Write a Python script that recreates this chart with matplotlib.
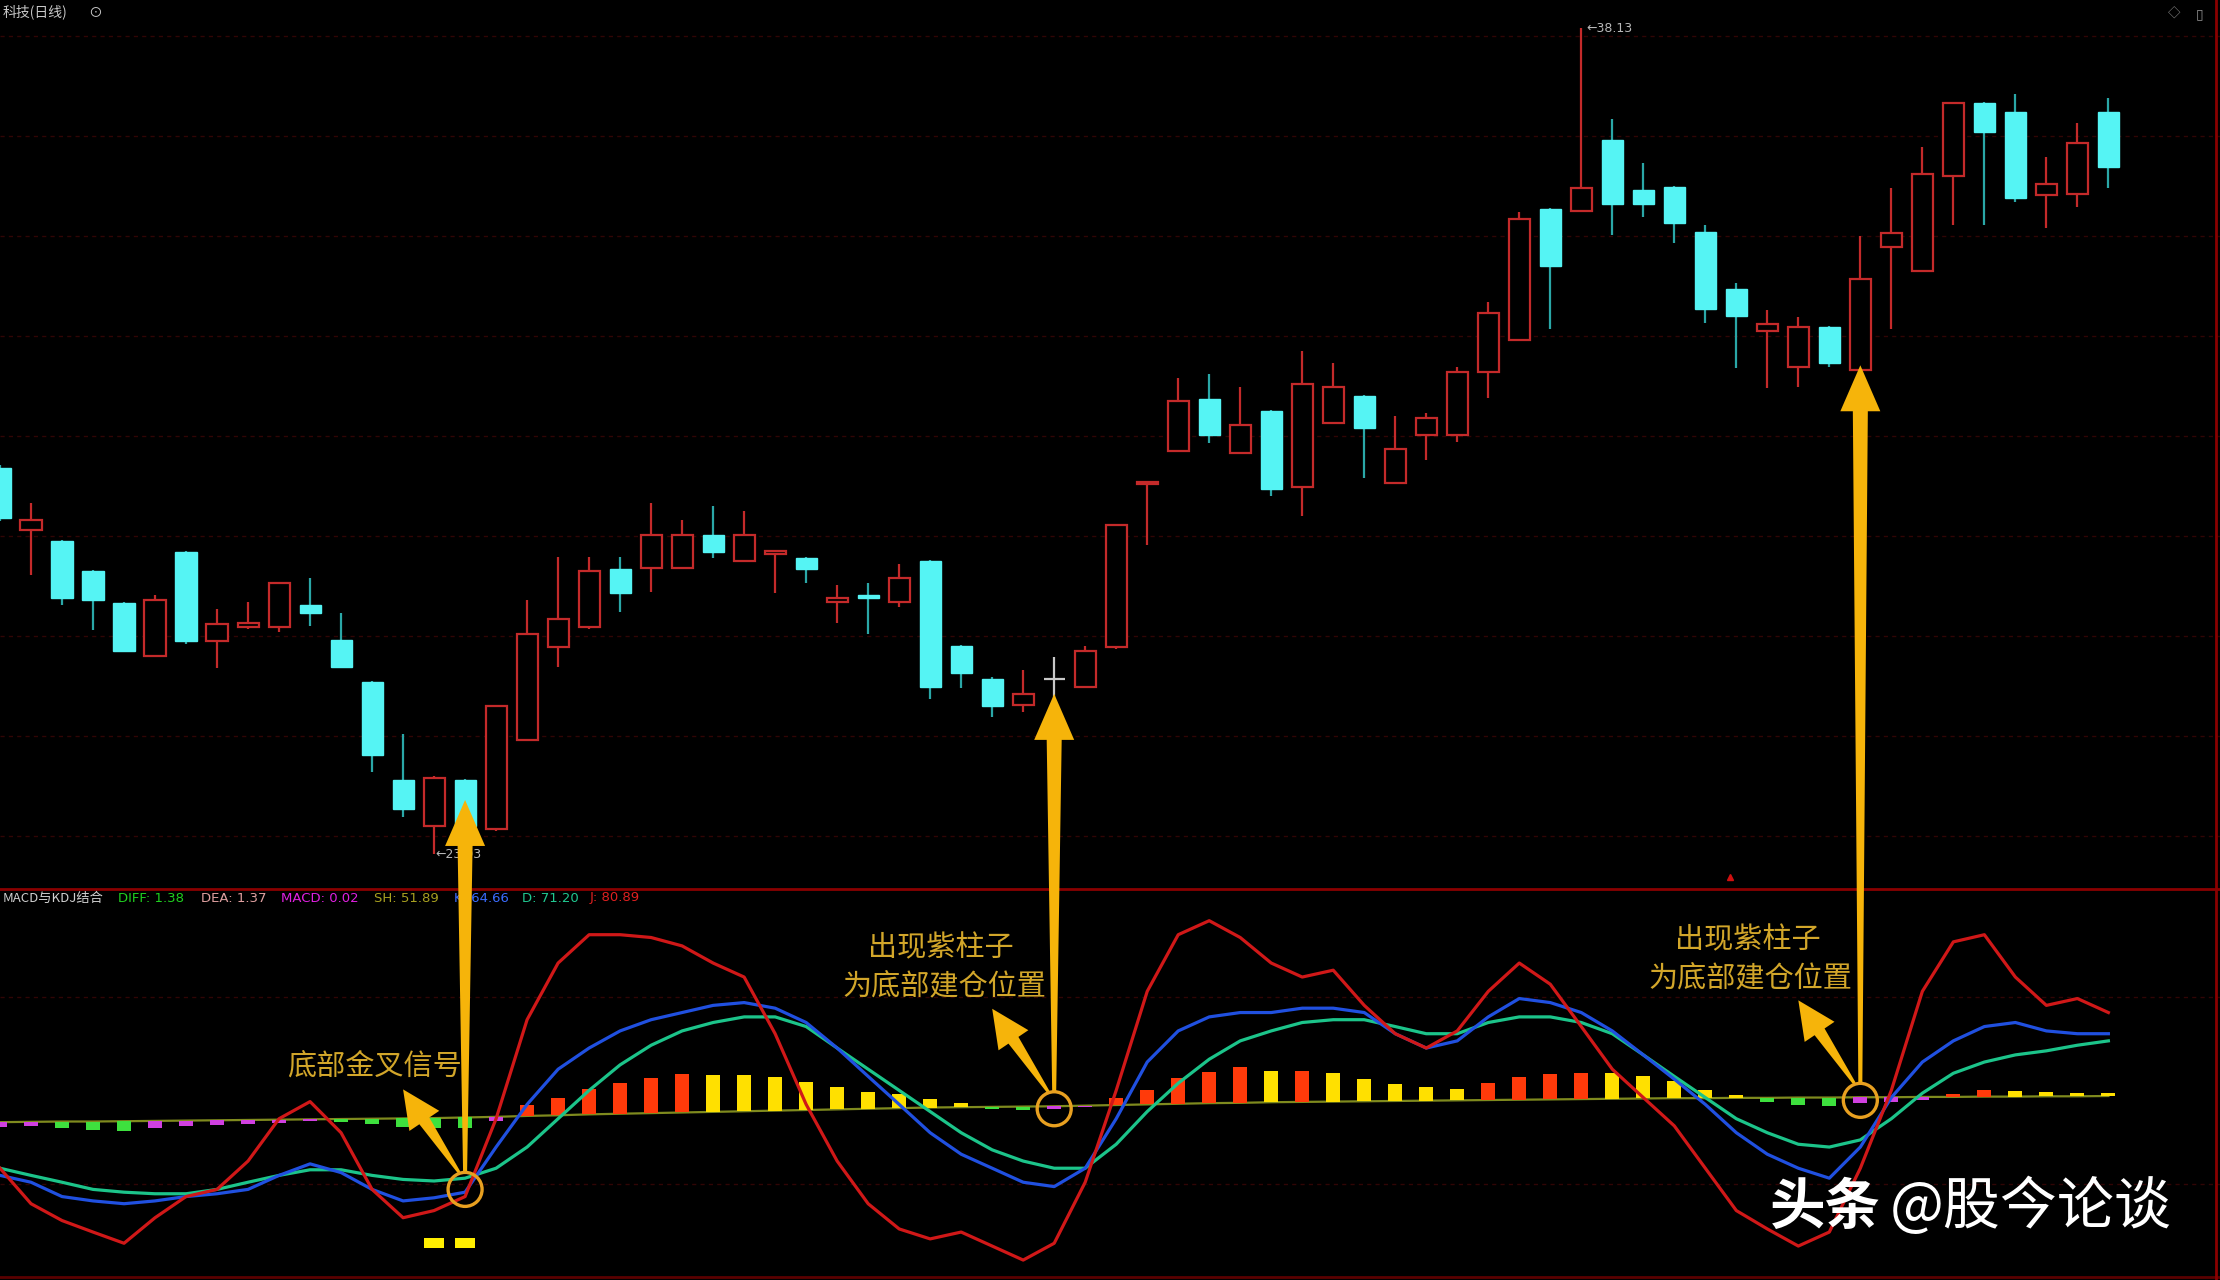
import matplotlib.pyplot as plt
import numpy as np
from matplotlib.patches import Rectangle, Polygon, Circle

plt.rcParams['font.family'] = ['Noto Sans CJK SC', 'DejaVu Sans']

# ---- daily candles ----
opens = [30.10, 28.96, 28.76, 28.21, 27.62, 26.66, 28.55, 26.92, 27.18, 27.18,
         27.59, 26.94, 26.17, 24.38, 23.55, 24.38, 23.49, 25.12, 26.81, 27.18,
         28.24, 28.26, 28.26, 28.86, 28.39, 28.52, 28.45, 27.64, 27.73, 27.64,
         28.39, 26.84, 26.24, 25.75, 26.24, 26.09, 26.81, 29.79, 30.41, 31.35,
         30.36, 31.14, 29.74, 30.91, 31.40, 29.82, 30.70, 30.70, 31.84, 32.43,
         34.82, 34.79, 36.09, 35.18, 35.23, 34.40, 33.37, 32.59, 31.94, 32.67,
         31.89, 34.14, 33.70, 35.44, 36.76, 36.60, 35.08, 35.10, 36.60]
closes = [29.17, 29.14, 27.72, 27.67, 26.74, 27.67, 26.92, 27.23, 27.25, 27.98,
          27.44, 26.45, 24.85, 23.86, 24.43, 23.55, 25.73, 27.05, 27.33, 28.21,
          27.80, 28.86, 28.86, 28.55, 28.86, 28.57, 28.24, 27.72, 27.71, 28.08,
          26.09, 26.35, 25.73, 25.96, 26.24, 26.74, 29.04, 29.84, 31.32, 30.70,
          30.88, 29.71, 31.63, 31.58, 30.83, 30.44, 31.01, 31.84, 32.93, 34.64,
          33.78, 35.21, 34.92, 34.92, 34.58, 33.00, 32.87, 32.72, 32.67, 32.02,
          33.55, 34.38, 35.46, 36.76, 36.24, 35.02, 35.28, 36.03, 35.59]
highs = [30.15, 29.46, 28.78, 28.23, 27.64, 27.77, 28.57, 27.51, 27.64, 28.00,
         28.08, 27.44, 26.19, 25.23, 24.46, 24.40, 25.76, 27.67, 28.47, 28.47,
         28.47, 29.46, 29.14, 29.40, 29.30, 28.59, 28.47, 27.95, 27.98, 28.34,
         28.41, 26.86, 26.26, 26.40, 26.63, 26.84, 29.06, 29.86, 31.73, 31.81,
         31.58, 31.16, 32.23, 32.01, 31.42, 31.04, 31.09, 31.94, 33.13, 34.77,
         34.84, 38.13, 36.47, 35.67, 35.25, 34.53, 33.47, 32.98, 32.85, 32.69,
         34.33, 35.21, 35.96, 36.78, 36.78, 36.94, 35.77, 36.40, 36.86]
lows = [29.12, 28.13, 27.59, 27.12, 26.72, 26.64, 26.87, 26.43, 27.15, 27.10,
        27.20, 26.43, 24.53, 23.71, 23.03, 23.50, 23.46, 25.10, 26.45, 27.15,
        27.46, 27.82, 28.24, 28.45, 28.37, 27.80, 27.98, 27.25, 27.05, 27.54,
        25.86, 26.06, 25.54, 25.62, 25.86, 26.07, 26.79, 28.68, 30.39, 30.54,
        30.34, 29.58, 29.22, 30.89, 29.90, 29.80, 30.23, 30.57, 31.37, 32.41,
        32.64, 34.77, 34.35, 34.69, 34.20, 32.74, 31.92, 31.55, 31.58, 31.94,
        31.87, 32.64, 33.68, 34.53, 34.53, 34.95, 34.48, 34.87, 35.21]

# ---- MACD / KDJ panel ----
k_line = [22.7, 20.5, 15.9, 14.5, 13.6, 14.5, 15.9, 16.8, 18.2, 22.7,
          26.4, 23.6, 18.2, 14.5, 15.5, 17.3, 31.8, 45.5, 56.8, 63.6,
          69.1, 72.7, 75.0, 77.3, 78.2, 76.4, 71.8, 63.6, 54.5, 45.5,
          36.4, 29.5, 25.0, 20.5, 19.1, 25.0, 40.9, 59.1, 69.1, 73.6,
          75.0, 75.0, 76.4, 76.4, 75.0, 68.2, 63.6, 65.9, 73.6, 79.5,
          78.2, 75.0, 69.1, 61.4, 53.6, 45.5, 36.4, 29.5, 25.0, 21.8,
          31.8, 47.7, 59.1, 65.9, 70.5, 71.8, 69.1, 68.2, 68.2]
d_line = [25.0, 22.7, 20.5, 18.2, 17.3, 16.8, 16.8, 18.2, 20.5, 22.7,
          24.5, 24.5, 22.7, 21.4, 20.9, 21.8, 25.0, 31.8, 40.9, 50.0,
          58.2, 64.5, 69.1, 71.8, 73.6, 73.6, 70.5, 63.6, 56.8, 50.0,
          43.2, 36.4, 30.9, 27.3, 25.0, 25.0, 32.7, 43.2, 52.3, 60.0,
          65.9, 69.1, 71.8, 72.7, 72.7, 70.5, 68.2, 68.2, 71.8, 73.6,
          73.6, 71.8, 68.2, 61.4, 54.5, 47.7, 40.9, 36.4, 32.7, 31.8,
          34.1, 40.9, 49.1, 55.5, 59.1, 61.4, 62.7, 64.5, 65.9]
j_line = [25.0, 13.6, 8.2, 4.5, 0.9, 9.1, 15.9, 18.2, 27.3, 40.9,
          46.4, 36.4, 18.2, 9.1, 11.4, 15.9, 40.9, 72.7, 90.9, 100.0,
          100.0, 99.1, 96.4, 90.9, 86.4, 68.2, 45.5, 27.3, 13.6, 5.5,
          2.3, 4.5, 0.0, -4.5, 0.9, 20.5, 50.0, 81.8, 100.0, 104.5,
          99.1, 90.9, 86.4, 88.6, 77.3, 68.2, 63.6, 69.1, 81.8, 90.9,
          84.1, 70.5, 56.8, 47.7, 38.6, 25.0, 11.4, 5.5, 0.0, 4.5,
          25.0, 50.0, 81.8, 97.7, 100.0, 86.4, 77.3, 79.5, 75.0]
sh_line = [39.8, 39.9, 40.0, 40.0, 40.1, 40.2, 40.3, 40.4, 40.5, 40.6,
           40.7, 40.8, 40.9, 41.0, 41.1, 41.3, 41.5, 41.8, 42.0, 42.3,
           42.5, 42.7, 42.9, 43.1, 43.3, 43.5, 43.7, 43.9, 44.1, 44.3,
           44.5, 44.6, 44.7, 44.8, 44.9, 45.1, 45.3, 45.5, 45.7, 45.9,
           46.0, 46.2, 46.3, 46.4, 46.5, 46.6, 46.7, 46.8, 46.9, 47.0,
           47.1, 47.2, 47.3, 47.4, 47.5, 47.5, 47.6, 47.6, 47.7, 47.7,
           47.8, 47.8, 47.9, 47.9, 48.0, 48.0, 48.1, 48.1, 48.2]
macd_bar = [-1.5, -1.2, -2.0, -2.6, -3.0, -2.2, -1.8, -1.6, -1.4, -1.0,
            -0.6, -0.9, -1.6, -2.6, -3.2, -3.4, -1.4, 3.6, 5.5, 8.2,
            10.0, 11.4, 12.3, 12.0, 11.8, 10.9, 9.1, 7.3, 5.5, 4.5,
            2.7, 1.4, -0.8, -1.2, -0.9, -0.5, 2.3, 4.5, 8.2, 10.0,
            11.4, 10.0, 10.0, 9.1, 7.3, 5.5, 4.5, 3.6, 5.5, 7.3,
            8.2, 8.4, 8.2, 7.3, 5.5, 2.7, 0.9, -1.4, -2.3, -2.8,
            -2.0, -1.5, -1.0, 1.0, 2.0, 1.8, 1.5, 1.0, 0.8]
signal_idx = [14, 15]

header_items = [("DIFF: 1.38", "#1fd01f"), ("DEA: 1.37", "#e0a0a0"),
                ("MACD: 0.02", "#e020e0"), ("SH: 51.89", "#a8a020"),
                ("K: 64.66", "#3a6cff"), ("D: 71.20", "#20c890"),
                ("J: 80.89", "#e02020")]

# annotations: (candle index, arrow-tip price, circle value in indicator panel)
mark_idx = [15, 34, 60]
mark_tip = [24.02, 25.96, 31.97]
mark_val = [18.2, 44.1, 46.8]
mark_text = ["底部金叉信号", "出现紫柱子\n为底部建仓位置", "出现紫柱子\n为底部建仓位置"]

W, H = 2220, 1280
split = 888
fig = plt.figure(figsize=(W / 100, H / 100), dpi=100, facecolor="black")
ax1 = fig.add_axes([0, 1 - split / H, 1, split / H])
ax2 = fig.add_axes([0, 0, 1, (H - split) / H])
ov = fig.add_axes([0, 0, 1, 1], zorder=10)
for a in (ax1, ax2, ov):
    a.set_facecolor("black")
    a.axis("off")
ov.patch.set_alpha(0)
ov.set_xlim(0, W)
ov.set_ylim(H, 0)

n = len(opens)
idx = np.arange(n)
ax1.set_xlim(0, 71.6)
ax2.set_xlim(0, 71.6)
ax1.set_ylim(22.41, 38.65)
ax2.set_ylim(-10.9, 115)

# grid lines
for y in np.arange(38.0, 22.6, -1.83):
    ax1.axhline(y, color="#300505", lw=1.0, ls=(0, (3, 3)), zorder=0)
for y in [20, 80]:
    ax2.axhline(y, color="#300505", lw=1.0, ls=(0, (3, 3)), zorder=0)

UP, DOWN, WICK_DN = "#c42a2a", "#55f4f4", "#2aa7a7"
bw = 0.68
for i in idx:
    o, c, h, l = opens[i], closes[i], highs[i], lows[i]
    if c > o:
        ax1.vlines(i, l, h, color=UP, lw=1.6, zorder=2)
        ax1.add_patch(Rectangle((i - bw / 2, o), bw, max(c - o, 0.05),
                                fc="black", ec=UP, lw=1.6, zorder=3))
    elif c < o:
        ax1.vlines(i, l, h, color=WICK_DN, lw=1.6, zorder=2)
        ax1.add_patch(Rectangle((i - bw / 2, c), bw, max(o - c, 0.05),
                                fc=DOWN, ec=DOWN, lw=1.0, zorder=3))
    else:
        ax1.vlines(i, l, h, color="#c8c8c8", lw=1.6, zorder=2)
        ax1.hlines(o, i - bw / 2, i + bw / 2, color="#c8c8c8", lw=1.6, zorder=3)

hi_i = int(np.argmax(highs))
lo_i = int(np.argmin(lows))
ax1.text(hi_i + 0.15, highs[hi_i], "←%.2f" % highs[hi_i], color="#b8b8b8",
         fontsize=9, ha="left", va="center", family=["DejaVu Sans"])
ax1.text(lo_i + 0.05, lows[lo_i], "←%.2f" % lows[lo_i], color="#b8b8b8",
         fontsize=9, ha="left", va="center", family=["DejaVu Sans"])
ax1.plot([55.8], [22.62], marker="^", ms=5, color="#d01010", zorder=4)

# MACD histogram standing on the SH line
cols = []
for i, v in enumerate(macd_bar):
    prev = macd_bar[i - 1] if i > 0 else v
    if v >= 0:
        cols.append("#ff3a0a" if v >= prev else "#ffe000")
    else:
        cols.append("#3ee03e" if v < prev else "#d040e0")
ax2.bar(idx, macd_bar, bottom=sh_line, width=0.45, color=cols, zorder=2)
ax2.plot(idx, sh_line, color="#7f8a1e", lw=1.6, zorder=1)
ax2.bar(signal_idx, [3.2] * len(signal_idx), bottom=-0.5, width=0.62,
        color="#ffee00", zorder=2)

ax2.plot(idx, d_line, color="#1cc48a", lw=2.3, zorder=3)
ax2.plot(idx, k_line, color="#2050e0", lw=2.3, zorder=3)
ax2.plot(idx, j_line, color="#d01818", lw=2.3, zorder=3)

# panel borders
ov.plot([0, W], [split + 1, split + 1], color="#8a0000", lw=2)
ov.plot([0, W], [H - 3, H - 3], color="#5a0000", lw=2)
ov.plot([W - 4, W - 4], [0, H], color="#8a0000", lw=2)

# headers
ov.text(3, 12, "科技(日线)", color="#c8c8c8", fontsize=10, va="center", ha="left")
ov.text(88, 12, "⊙", color="#c8c8c8", fontsize=10, va="center", ha="left")
ov.text(2168, 14, "◇", color="#909090", fontsize=9, va="center", ha="left")
ov.text(2196, 14, "▯", color="#909090", fontsize=10, va="center", ha="left")
ov.text(3, 898, "MACD与KDJ结合", color="#d0d0d0", fontsize=9.5, va="center", ha="left")
xs = [118, 201, 281, 374, 454, 522, 590]
for (t, c), x in zip(header_items, xs):
    ov.text(x, 898, t, color=c, fontsize=9.5, va="center", ha="left",
            family=["DejaVu Sans"])


def to_px(ax, x, y):
    d = ax.transData.transform((x, y))
    return np.array([d[0], H - d[1]])


def wedge(tail, tip, w_tail, w_neck, head_w, head_len, color):
    tail, tip = np.asarray(tail, float), np.asarray(tip, float)
    u = (tip - tail) / np.hypot(*(tip - tail))
    nrm = np.array([-u[1], u[0]])
    neck = tip - u * head_len
    pts = [tail + nrm * w_tail / 2, neck + nrm * w_neck / 2, neck + nrm * head_w / 2,
           tip, neck - nrm * head_w / 2, neck - nrm * w_neck / 2, tail - nrm * w_tail / 2]
    ov.add_patch(Polygon(pts, closed=True, fc=color, ec="none", zorder=5))


GOLD = "#f6b40a"
TXT = "#d2a62a"
R = 17
for i, tip_p, val, txt in zip(mark_idx, mark_tip, mark_val, mark_text):
    c = to_px(ax2, i, val)
    tip = to_px(ax1, i, tip_p)
    wedge(c + np.array([0, -R]), tip, 4, 15, 40, 46, GOLD)
    wedge(c + np.array([-6, -17]), c + np.array([-62, -100]), 3, 12, 36, 38, GOLD)
    ov.add_patch(Circle(c, R, fill=False, ec="#e8a020", lw=2.4, zorder=6))
    lines = txt.split("\n")
    if len(lines) == 1:
        ov.text(c[0] - 91, c[1] - 123, lines[0], color=TXT, fontsize=21,
                ha="center", va="center", zorder=6)
    else:
        ov.text(c[0] - 113, c[1] - 160, lines[0], color=TXT, fontsize=21,
                ha="center", va="center", zorder=6)
        ov.text(c[0] - 110, c[1] - 122, lines[1], color=TXT, fontsize=21,
                ha="center", va="center", zorder=6)

# watermark
ov.text(1770, 1208, "头条", color="white", fontsize=40, fontweight="bold",
        ha="left", va="center", zorder=8)
ov.text(1890, 1208, "@股今论谈", color="white", fontsize=41,
        ha="left", va="center", zorder=8)

fig.savefig("out.png", dpi=100, facecolor="black")
